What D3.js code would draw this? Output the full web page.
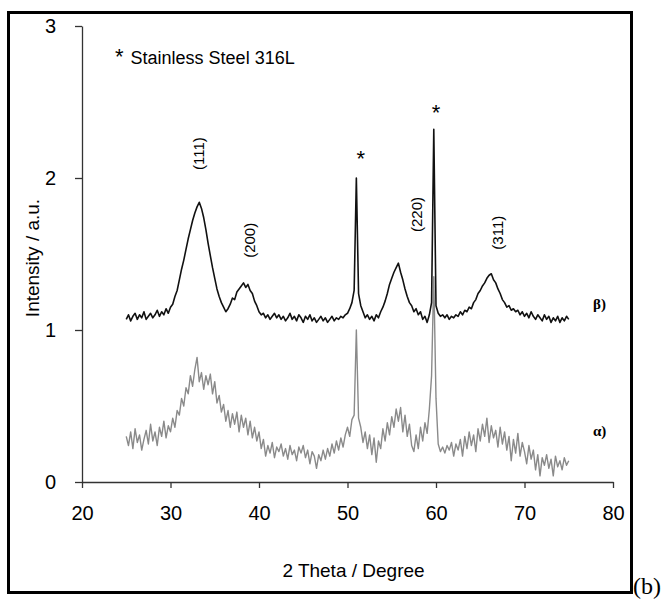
<!DOCTYPE html>
<html lang="en">
<head>
<meta charset="UTF-8">
<title>XRD pattern (b)</title>
<style>
  body { margin: 0; background: #fff; }
  svg { display: block; }
  .axis path, .axis line { stroke: #333; stroke-width: 1.3; }
  .axis text { font-family: "Liberation Sans", Arial, sans-serif; font-size: 20px; fill: #000; }
</style>
</head>
<body>
<svg id="chart" width="669" height="601"></svg>

<script src="https://cdnjs.cloudflare.com/ajax/libs/d3/7.8.5/d3.min.js"></script>
<script>
// 2 theta sampling of the scans (degrees)
const thetaStart = 25;
const thetaStep = 0.25;

// beta) scan, black, 25..75 deg
const betaScan = [
  1.07,1.10,1.06,1.09,1.11,1.07,1.10,1.08,1.12,1.07,
  1.09,1.11,1.08,1.10,1.13,1.09,1.12,1.10,1.14,1.11,
  1.15,1.17,1.22,1.26,1.33,1.40,1.46,1.53,1.60,1.66,
  1.72,1.77,1.81,1.84,1.80,1.74,1.66,1.57,1.49,1.41,
  1.34,1.27,1.22,1.18,1.15,1.12,1.14,1.17,1.21,1.20,
  1.25,1.27,1.29,1.31,1.28,1.30,1.26,1.24,1.19,1.16,
  1.12,1.10,1.11,1.08,1.10,1.07,1.09,1.11,1.08,1.10,
  1.07,1.09,1.06,1.08,1.11,1.07,1.09,1.06,1.10,1.08,
  1.05,1.09,1.07,1.10,1.06,1.08,1.05,1.07,1.09,1.06,
  1.08,1.05,1.07,1.09,1.06,1.08,1.07,1.09,1.08,1.10,
  1.11,1.14,1.18,1.26,2.00,1.24,1.16,1.12,1.08,1.10,
  1.07,1.09,1.06,1.10,1.08,1.12,1.15,1.19,1.24,1.30,
  1.34,1.38,1.41,1.44,1.38,1.33,1.27,1.22,1.18,1.16,
  1.12,1.14,1.10,1.12,1.07,1.09,1.05,1.10,1.18,2.32,
  1.16,1.11,1.09,1.10,1.08,1.10,1.07,1.09,1.08,1.10,
  1.09,1.12,1.10,1.13,1.12,1.15,1.14,1.18,1.20,1.24,
  1.26,1.29,1.31,1.34,1.36,1.37,1.33,1.31,1.27,1.24,
  1.20,1.18,1.15,1.16,1.13,1.14,1.12,1.13,1.10,1.12,
  1.09,1.11,1.08,1.12,1.09,1.07,1.10,1.08,1.06,1.10,
  1.07,1.09,1.05,1.08,1.06,1.09,1.05,1.08,1.06,1.09,
  1.07
];

// alpha) scan, grey, 25..75 deg
const alphaScan = [
  0.30,0.24,0.33,0.22,0.35,0.26,0.31,0.21,0.28,0.34,
  0.25,0.38,0.27,0.33,0.24,0.36,0.30,0.40,0.29,0.37,
  0.33,0.42,0.36,0.47,0.44,0.55,0.50,0.62,0.58,0.70,
  0.63,0.74,0.82,0.66,0.72,0.61,0.70,0.64,0.71,0.58,
  0.66,0.52,0.57,0.46,0.51,0.40,0.47,0.36,0.45,0.38,
  0.46,0.33,0.44,0.36,0.42,0.31,0.40,0.29,0.36,0.27,
  0.33,0.22,0.28,0.17,0.24,0.19,0.26,0.16,0.23,0.20,
  0.25,0.17,0.22,0.15,0.24,0.18,0.21,0.14,0.23,0.19,
  0.24,0.16,0.21,0.12,0.20,0.17,0.09,0.18,0.14,0.21,
  0.15,0.22,0.17,0.25,0.19,0.27,0.21,0.29,0.23,0.31,
  0.36,0.30,0.41,0.44,1.00,0.42,0.36,0.26,0.33,0.22,
  0.31,0.18,0.29,0.13,0.27,0.22,0.35,0.27,0.39,0.31,
  0.43,0.36,0.48,0.40,0.49,0.33,0.44,0.30,0.38,0.24,
  0.20,0.31,0.22,0.36,0.27,0.39,0.32,0.48,0.70,1.35,
  0.55,0.25,0.20,0.23,0.19,0.24,0.21,0.26,0.17,0.25,
  0.21,0.28,0.17,0.30,0.22,0.33,0.24,0.31,0.20,0.35,
  0.27,0.38,0.30,0.42,0.26,0.37,0.29,0.34,0.23,0.36,
  0.25,0.33,0.21,0.30,0.14,0.28,0.19,0.32,0.17,0.26,
  0.20,0.12,0.24,0.15,0.21,0.08,0.18,0.04,0.16,0.11,
  0.18,0.09,0.15,0.04,0.17,0.10,0.14,0.08,0.16,0.11,
  0.14
];

const xTicks = [20, 30, 40, 50, 60, 70, 80];
const yTicks = [0, 1, 2, 3];

// reflection labels (rotated) : position in data units
const peakLabels = [
  { text: "(111)", x: 33.2, y: 2.16 },
  { text: "(200)", x: 39.0, y: 1.59 },
  { text: "(220)", x: 57.85, y: 1.76 },
  { text: "(311)", x: 67.0, y: 1.64 }
];
// steel substrate markers
const steelMarks = [
  { x: 51.5, y: 2.16 },
  { x: 60.0, y: 2.46 }
];
const seriesLabels = [
  { text: "β)", y: 1.17 },
  { text: "α)", y: 0.34 }
];

const svg = d3.select("#chart");
const margin = { top: 26, right: 56, bottom: 119, left: 82 };
const W = 669, H = 601;

const x = d3.scaleLinear().domain([20, 80]).range([margin.left, W - margin.right]);
const y = d3.scaleLinear().domain([0, 3]).range([H - margin.bottom, margin.top]);

// outer frame
svg.append("rect")
  .attr("x", 8.5).attr("y", 12.5)
  .attr("width", 623).attr("height", 580)
  .attr("fill", "none").attr("stroke", "#000").attr("stroke-width", 3);

svg.append("text")
  .attr("x", 633).attr("y", 594)
  .style("font-family", "'Liberation Serif', 'Times New Roman', serif")
  .style("font-size", "24px")
  .text("(b)");

// axes
svg.append("g").attr("class", "axis")
  .attr("transform", `translate(0,${y(0)})`)
  .call(d3.axisBottom(x).tickValues(xTicks).tickFormat(d3.format("d"))
    .tickSize(6).tickSizeOuter(0).tickPadding(18));

svg.append("g").attr("class", "axis")
  .attr("transform", `translate(${x(20)},0)`)
  .call(d3.axisLeft(y).tickValues(yTicks).tickFormat(d3.format("d"))
    .tickSize(7).tickSizeOuter(0).tickPadding(19));

// axis titles
svg.append("text")
  .attr("transform", `translate(32,${(y(0) + y(3)) / 2 + 4}) rotate(-90)`)
  .attr("text-anchor", "middle").attr("dy", "0.35em")
  .style("font-family", "'Liberation Sans', Arial, sans-serif")
  .style("font-size", "19px").style("fill", "#000")
  .text("Intensity / a.u.");

svg.append("text")
  .attr("x", (x(20) + x(80)) / 2 + 6).attr("y", 577)
  .attr("text-anchor", "middle")
  .style("font-family", "'Liberation Sans', Arial, sans-serif")
  .style("font-size", "19px").style("fill", "#000")
  .text("2 Theta / Degree");

// scans
const toPoints = arr => arr.map((v, i) => ({ t: thetaStart + i * thetaStep, v: v }));
const line = d3.line().x(d => x(d.t)).y(d => y(d.v));

svg.append("path")
  .datum(toPoints(alphaScan))
  .attr("fill", "none").attr("stroke", "#8a8a8a")
  .attr("stroke-width", 1.4).attr("stroke-linejoin", "round")
  .attr("d", line);

svg.append("path")
  .datum(toPoints(betaScan))
  .attr("fill", "none").attr("stroke", "#111")
  .attr("stroke-width", 1.6).attr("stroke-linejoin", "round")
  .attr("d", line);

// annotations
svg.selectAll(".peak")
  .data(peakLabels).enter().append("text")
  .attr("class", "peak")
  .attr("transform", d => `translate(${x(d.x)},${y(d.y)}) rotate(-90)`)
  .attr("text-anchor", "middle").attr("dy", "0.35em")
  .style("font-family", "'Liberation Sans', Arial, sans-serif")
  .style("font-size", "15px").style("fill", "#000")
  .text(d => d.text);

svg.selectAll(".steel")
  .data(steelMarks).enter().append("text")
  .attr("class", "steel")
  .attr("x", d => x(d.x)).attr("y", d => y(d.y) + 12)
  .attr("text-anchor", "middle")
  .style("font-family", "'Liberation Sans', Arial, sans-serif")
  .style("font-size", "22px").style("fill", "#000")
  .text("*");

svg.selectAll(".series")
  .data(seriesLabels).enter().append("text")
  .attr("class", "series")
  .attr("x", 593).attr("y", d => y(d.y)).attr("dy", "0.35em")
  .style("font-family", "'Liberation Serif', 'Times New Roman', serif")
  .style("font-size", "15px").style("font-weight", "bold")
  .text(d => d.text);

// legend note
const note = svg.append("text")
  .attr("x", 115).attr("y", 64)
  .style("font-family", "'Liberation Sans', Arial, sans-serif")
  .style("font-size", "18px").style("fill", "#000");
note.append("tspan").style("font-size", "22px").text("*");
note.append("tspan").attr("dx", 7).text("Stainless Steel 316L");
</script>
</body>
</html>
